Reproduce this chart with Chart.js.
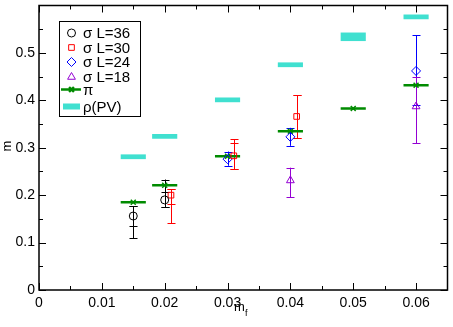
<!DOCTYPE html>
<html>
<head>
<meta charset="utf-8">
<script src="https://cdn.jsdelivr.net/npm/chart.js@4.4.1/dist/chart.umd.min.js"></script>
<style>
html,body{margin:0;padding:0;background:#fff;}
#wrap{width:453px;height:327px;}
</style>
</head>
<body>
<div id="wrap"><canvas id="c" width="453" height="327"></canvas></div>
<script>
// ---- data ----
const xRho = [0.015, 0.02, 0.03, 0.04, 0.05, 0.06];
const yRho = [0.281, 0.324, 0.401, 0.475, 0.534, 0.576];
const eRho = [0.005, 0.005, 0.005, 0.005, 0.009, 0.005];
const dxRho = [0.002, 0.002, 0.002, 0.002, 0.002, 0.002];

const xPi = [0.015, 0.02, 0.03, 0.04, 0.05, 0.06];
const yPi = [0.185, 0.221, 0.282, 0.335, 0.383, 0.432];
const dxPi = [0.002, 0.002, 0.002, 0.002, 0.002, 0.002];

const x36 = [0.015, 0.02];
const y36 = [0.156, 0.19];
const lo36 = [0.109, 0.174];
const hi36 = [0.177, 0.233];
const lo36b = [0.135, 0.174];
const hi36b = [0.177, 0.207];

const x30 = [0.021, 0.031, 0.041];
const y30 = [0.2, 0.283, 0.366];
const lo30 = [0.141, 0.255, 0.321];
const hi30 = [0.212, 0.318, 0.411];
const lo30b = [0.181, 0.255, 0.321];
const hi30b = [0.212, 0.31, 0.411];

const x24 = [0.03, 0.04, 0.06];
const y24 = [0.276, 0.323, 0.462];
const lo24 = [0.262, 0.304, 0.39];
const hi24 = [0.292, 0.342, 0.537];

const x18 = [0.04, 0.06];
const y18 = [0.231, 0.387];
const lo18 = [0.196, 0.309];
const hi18 = [0.258, 0.45];

const seriesNames = ['σ L=36', 'σ L=30', 'σ L=24', 'σ L=18', 'π', 'ρ(PV)'];

const xTickVals = [0, 0.01, 0.02, 0.03, 0.04, 0.05, 0.06];
const xTickLabels = ['0', '0.01', '0.02', '0.03', '0.04', '0.05', '0.06'];
const xMinorVals = [0.005, 0.015, 0.025, 0.035, 0.045, 0.055];
const yTickVals = [0, 0.1, 0.2, 0.3, 0.4, 0.5];
const yTickLabels = ['0', '0.1', '0.2', '0.3', '0.4', '0.5'];
const yMinorVals = [0.05, 0.15, 0.25, 0.35, 0.45, 0.55];

// ---- styles ----
const cBlack = '#000000';
const cRed = '#ff0000';
const cBlue = '#0000ff';
const cViolet = '#9400d3';
const cGreen = '#008b00';
const cTurq = '#40e0d0';
const FONT = '"Liberation Sans", Arial, Helvetica, sans-serif';

function pts(xs, ys) {
    return xs.map(function(x, i) { return {x: x, y: ys[i]}; });
}

// vertical error bar with caps
function vErr(ctx, xs, ys, x, lo, hi, color) {
    const px = Math.round(xs.getPixelForValue(x)) + 0.5;
    const p0 = ys.getPixelForValue(lo), p1 = ys.getPixelForValue(hi);
    ctx.strokeStyle = color;
    ctx.lineWidth = 1;
    ctx.beginPath();
    ctx.moveTo(px, p0); ctx.lineTo(px, p1);
    ctx.moveTo(px - 4, Math.round(p0) + 0.5); ctx.lineTo(px + 4, Math.round(p0) + 0.5);
    ctx.moveTo(px - 4, Math.round(p1) + 0.5); ctx.lineTo(px + 4, Math.round(p1) + 0.5);
    ctx.stroke();
}

const errPlugin = {
    id: 'errbars',
    beforeDatasetsDraw(chart) {
        const ctx = chart.ctx, xs = chart.scales.x, ys = chart.scales.y;
        ctx.save();
        for (let i = 0; i < x36.length; i++) {
            vErr(ctx, xs, ys, x36[i], lo36[i], hi36[i], cBlack);
            vErr(ctx, xs, ys, x36[i], lo36b[i], hi36b[i], cBlack);
        }
        for (let i = 0; i < x30.length; i++) {
            vErr(ctx, xs, ys, x30[i], lo30[i], hi30[i], cRed);
            vErr(ctx, xs, ys, x30[i], lo30b[i], hi30b[i], cRed);
        }
        for (let i = 0; i < x24.length; i++) vErr(ctx, xs, ys, x24[i], lo24[i], hi24[i], cBlue);
        for (let i = 0; i < x18.length; i++) vErr(ctx, xs, ys, x18[i], lo18[i], hi18[i], cViolet);

        // rho(PV) bands
        ctx.fillStyle = cTurq;
        for (let i = 0; i < xRho.length; i++) {
            const a = xs.getPixelForValue(xRho[i] - dxRho[i]), b = xs.getPixelForValue(xRho[i] + dxRho[i]);
            const t = ys.getPixelForValue(yRho[i] + eRho[i]), u = ys.getPixelForValue(yRho[i] - eRho[i]);
            ctx.fillRect(a, t, b - a, u - t);
        }
        // pi horizontal bars
        ctx.strokeStyle = cGreen;
        ctx.lineWidth = 2.5;
        ctx.beginPath();
        for (let i = 0; i < xPi.length; i++) {
            const py = ys.getPixelForValue(yPi[i]);
            ctx.moveTo(xs.getPixelForValue(xPi[i] - dxPi[i]), py);
            ctx.lineTo(xs.getPixelForValue(xPi[i] + dxPi[i]), py);
        }
        ctx.stroke();
        ctx.restore();
    }
};

const framePlugin = {
    id: 'frame',
    afterDraw(chart) {
        const ctx = chart.ctx, a = chart.chartArea, xs = chart.scales.x, ys = chart.scales.y;
        ctx.save();
        ctx.strokeStyle = '#000';
        ctx.lineWidth = 1;
        ctx.beginPath();
        function xt(v, len) {
            const p = Math.round(xs.getPixelForValue(v)) + 0.5;
            ctx.moveTo(p, a.bottom); ctx.lineTo(p, a.bottom - len);
            ctx.moveTo(p, a.top); ctx.lineTo(p, a.top + len);
        }
        function yt(v, len) {
            const p = Math.round(ys.getPixelForValue(v)) + 0.5;
            ctx.moveTo(a.left, p); ctx.lineTo(a.left + len, p);
            ctx.moveTo(a.right, p); ctx.lineTo(a.right - len, p);
        }
        xTickVals.forEach(function(v) { xt(v, 7); });
        xMinorVals.forEach(function(v) { xt(v, 4); });
        yTickVals.forEach(function(v) { yt(v, 7); });
        yMinorVals.forEach(function(v) { yt(v, 4); });
        ctx.stroke();
        ctx.lineWidth = 1.5;
        ctx.strokeRect(a.left, a.top, a.right - a.left, a.bottom - a.top);

        // axis titles
        ctx.fillStyle = '#000';
        ctx.textBaseline = 'alphabetic';
        ctx.font = '13px ' + FONT;
        ctx.textAlign = 'left';
        ctx.fillText('m', 234, 311);
        ctx.font = '9px ' + FONT;
        ctx.fillText('f', 245, 316);
        ctx.save();
        ctx.translate(11, 146);
        ctx.rotate(-Math.PI / 2);
        ctx.font = '13px ' + FONT;
        ctx.textAlign = 'center';
        ctx.fillText('m', 0, 0);
        ctx.restore();

        // legend
        const lx = 59.5, ly = 21.5;
        ctx.lineWidth = 1;
        ctx.strokeStyle = '#000';
        ctx.strokeRect(lx, ly, 81, 95);
        const rowY = [33, 47.5, 62, 77, 89.5, 106.5];
        const sx = 71.5, tx = 83;
        const ds = chart.data.datasets;
        ctx.font = '15px ' + FONT;
        ctx.textAlign = 'left';
        ctx.textBaseline = 'middle';
        for (let i = 0; i < ds.length; i++) {
            const y = rowY[i];
            if (i === 4) {
                ctx.strokeStyle = cGreen;
                ctx.lineWidth = 2.5;
                ctx.beginPath(); ctx.moveTo(61, y); ctx.lineTo(81, y); ctx.stroke();
            }
            if (i === 5) {
                ctx.fillStyle = cTurq;
                ctx.fillRect(63, y - 3, 17, 6);
            } else {
                ctx.strokeStyle = ds[i].borderColor;
                ctx.fillStyle = 'rgba(0,0,0,0)';
                Chart.helpers.drawPoint(ctx, {pointStyle: ds[i].pointStyle, radius: ds[i].pointRadius, borderWidth: ds[i].borderWidth, rotation: 0}, sx, y);
            }
            ctx.fillStyle = '#000';
            ctx.fillText(ds[i].label, tx, y + 1);
        }
        ctx.restore();
    }
};

function noPad(s) {
    s.paddingTop = 0; s.paddingBottom = 0; s.paddingLeft = 0; s.paddingRight = 0;
}

const ctx = document.getElementById('c').getContext('2d');
const chart = new Chart(ctx, {
    type: 'scatter',
    data: {
        datasets: [
            {label: seriesNames[0], data: pts(x36, y36), pointStyle: 'circle', pointRadius: 4, borderColor: cBlack, backgroundColor: 'rgba(0,0,0,0)', borderWidth: 1},
            {label: seriesNames[1], data: pts(x30, y30), pointStyle: 'rect', pointRadius: 4, borderColor: cRed, backgroundColor: 'rgba(0,0,0,0)', borderWidth: 1},
            {label: seriesNames[2], data: pts(x24, y24), pointStyle: 'rectRot', pointRadius: 4.5, borderColor: cBlue, backgroundColor: 'rgba(0,0,0,0)', borderWidth: 1},
            {label: seriesNames[3], data: pts(x18, y18), pointStyle: 'triangle', pointRadius: 4.5, borderColor: cViolet, backgroundColor: 'rgba(0,0,0,0)', borderWidth: 1},
            {label: seriesNames[4], data: pts(xPi, yPi), pointStyle: 'crossRot', pointRadius: 3.5, borderColor: cGreen, backgroundColor: cGreen, borderWidth: 1.5},
            {label: seriesNames[5], data: pts(xRho, yRho), pointRadius: 0, borderColor: cTurq, backgroundColor: cTurq}
        ]
    },
    options: {
        responsive: false,
        animation: false,
        devicePixelRatio: 1,
        layout: {padding: {left: 0, right: 2, top: 2, bottom: 0}},
        plugins: {legend: {display: false}, tooltip: {enabled: false}},
        scales: {
            x: {
                type: 'linear', min: 0, max: 0.065,
                grid: {display: false, drawTicks: false}, border: {display: false},
                afterBuildTicks: function(s) { s.ticks = xTickVals.map(function(v) { return {value: v}; }); },
                afterFit: function(s) { s.height = 37; noPad(s); },
                ticks: {
                    padding: 5, color: '#000', font: {size: 14, family: FONT},
                    maxRotation: 0, autoSkip: false,
                    callback: function(v, i) { return xTickLabels[i]; }
                }
            },
            y: {
                type: 'linear', min: 0, max: 0.6,
                grid: {display: false, drawTicks: false}, border: {display: false},
                afterBuildTicks: function(s) { s.ticks = yTickVals.map(function(v) { return {value: v}; }); },
                afterFit: function(s) { s.width = 39; noPad(s); },
                ticks: {
                    padding: 4, color: '#000', font: {size: 14, family: FONT},
                    autoSkip: false,
                    callback: function(v, i) { return yTickLabels[i]; }
                }
            }
        }
    },
    plugins: [errPlugin, framePlugin]
});
</script>
</body>
</html>
